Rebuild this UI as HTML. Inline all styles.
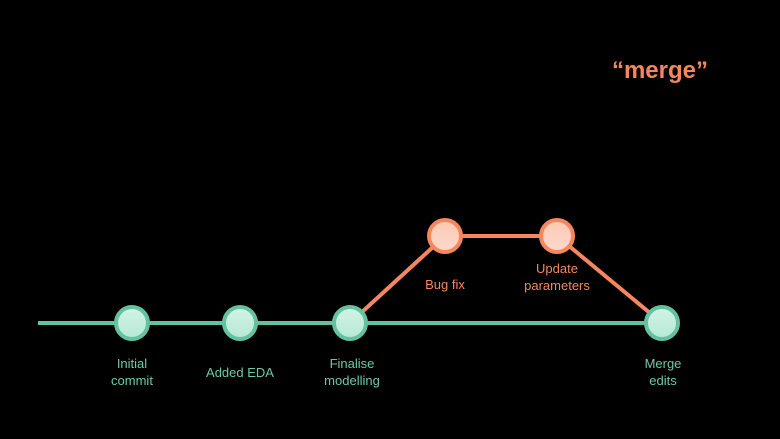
<!DOCTYPE html>
<html><head><style>
html,body{margin:0;padding:0;background:#000;}
svg{display:block;}
text{font-family:"Liberation Sans",sans-serif;}
</style></head><body>
<svg width="780" height="439" viewBox="0 0 780 439" xmlns="http://www.w3.org/2000/svg">
<defs>
<linearGradient id="g" x1="0" y1="0" x2="0" y2="1"><stop offset="0" stop-color="#d2f3e6"/><stop offset="1" stop-color="#b6e9d5"/></linearGradient>
<linearGradient id="o" x1="0" y1="0" x2="0" y2="1"><stop offset="0" stop-color="#fbc8b2"/><stop offset="1" stop-color="#fcd9cb"/></linearGradient>
</defs>
<line x1="38" y1="323" x2="662" y2="323" stroke="#62c2a2" stroke-width="4"/>
<polyline points="350,323 445,236 557,236 662,323" fill="none" stroke="#f5875e" stroke-width="4"/>
<g fill="url(#g)" stroke="#62c2a2" stroke-width="4">
<circle cx="132" cy="323" r="16"/><circle cx="240" cy="323" r="16"/><circle cx="350" cy="323" r="16"/><circle cx="662" cy="323" r="16"/>
</g>
<g fill="url(#o)" stroke="#f5875e" stroke-width="4">
<circle cx="445" cy="236" r="16"/><circle cx="557" cy="236" r="16"/>
</g>
<g fill="#6cc9a8" font-size="13" text-anchor="middle">
<text x="132" y="368">Initial</text><text x="132" y="385">commit</text>
<text x="240" y="377">Added EDA</text>
<text x="352" y="368">Finalise</text><text x="352" y="385">modelling</text>
<text x="663" y="368">Merge</text><text x="663" y="385">edits</text>
</g>
<g fill="#f5875e" font-size="13" text-anchor="middle">
<text x="445" y="289">Bug fix</text>
<text x="557" y="273">Update</text><text x="557" y="290">parameters</text>
</g>
<text x="660" y="78" fill="#f5875e" font-size="24" font-weight="bold" text-anchor="middle">“merge”</text>
</svg>
</body></html>
